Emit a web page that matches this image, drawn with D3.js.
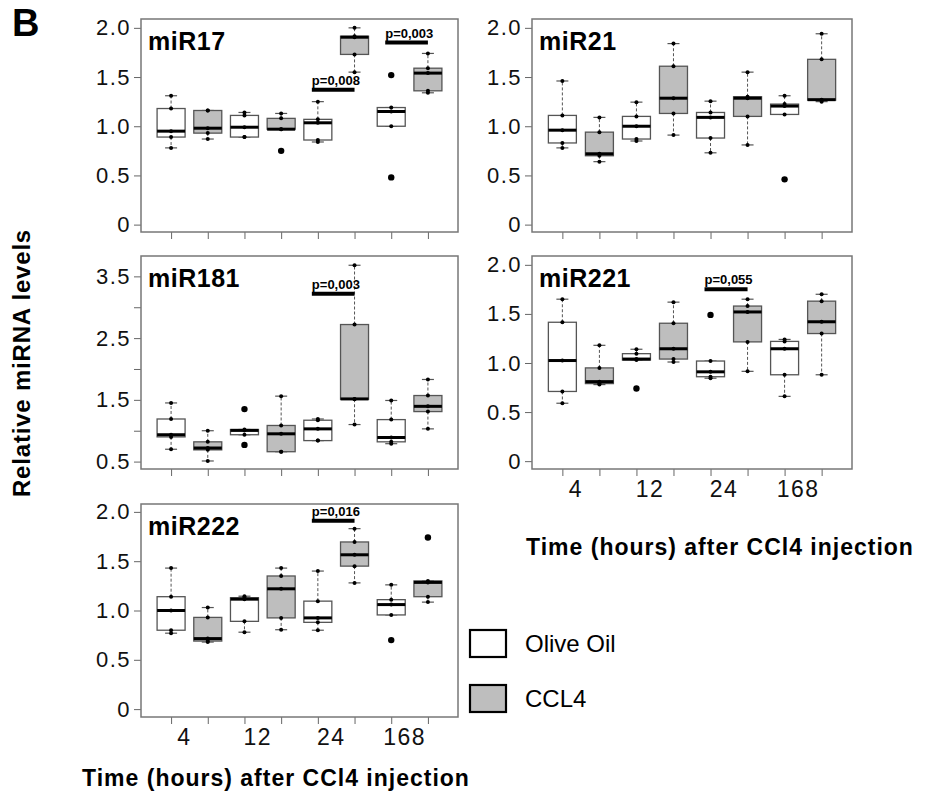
<!DOCTYPE html>
<html>
<head>
<meta charset="utf-8">
<script src="https://cdn.jsdelivr.net/npm/d3@7"></script>
<style>
  body { margin: 0; background: #fff; }
  text { font-family: Arial, "Liberation Sans", sans-serif; }
</style>
</head>
<body>
<div id="chart"></div>
<script>
// time points (hours) and the two treatment groups
const times = ["4", "12", "24", "168"];
const groups = ["Olive Oil", "CCL4"];

// 5 animals per box, box order: oil 4h, ccl4 4h, oil 12h, ccl4 12h, oil 24h, ...
const mir17 = [
    [1.31, 1.18, 0.95, 0.89, 0.78],
    [1.16, 1.16, 0.98, 0.93, 0.87],
    [1.14, 1.11, 0.99, 0.89, 0.89],
    [1.13, 1.08, 0.97, 0.97, 0.75],
    [1.25, 1.07, 1.035, 0.86, 0.84],
    [2.0, 1.915, 1.905, 1.73, 1.55],
    [1.52, 1.19, 1.15, 1.0, 0.48],
    [1.74, 1.59, 1.54, 1.36, 1.34]
];
const mir21 = [
    [1.46, 1.11, 0.96, 0.83, 0.78],
    [1.09, 0.94, 0.72, 0.70, 0.64],
    [1.245, 1.10, 1.0, 0.87, 0.85],
    [1.84, 1.61, 1.285, 1.13, 0.91],
    [1.255, 1.14, 1.09, 0.88, 0.73],
    [1.55, 1.30, 1.285, 1.10, 0.81],
    [1.31, 1.225, 1.205, 1.12, 0.46],
    [1.94, 1.68, 1.27, 1.265, 1.25]
];
const mir181 = [
    [1.45, 1.19, 0.935, 0.90, 0.70],
    [1.0, 0.82, 0.72, 0.69, 0.51],
    [1.35, 1.02, 1.005, 0.935, 0.77],
    [1.56, 1.085, 0.95, 0.66, 0.66],
    [1.19, 1.17, 1.03, 0.84, 0.84],
    [3.68, 2.72, 1.515, 1.51, 1.10],
    [1.49, 1.18, 0.89, 0.82, 0.79],
    [1.83, 1.57, 1.395, 1.31, 1.03]
];
const mir221 = [
    [1.65, 1.415, 1.025, 0.71, 0.59],
    [1.18, 0.95, 0.81, 0.79, 0.78],
    [1.14, 1.095, 1.04, 1.03, 0.74],
    [1.62, 1.405, 1.145, 1.04, 1.01],
    [1.49, 1.02, 0.91, 0.86, 0.845],
    [1.65, 1.58, 1.52, 1.215, 0.915],
    [1.24, 1.22, 1.145, 0.88, 0.66],
    [1.70, 1.63, 1.42, 1.30, 0.88]
];
const mir222 = [
    [1.43, 1.14, 1.0, 0.80, 0.77],
    [1.03, 0.93, 0.715, 0.69, 0.68],
    [1.145, 1.13, 1.115, 0.89, 0.78],
    [1.43, 1.35, 1.22, 0.925, 0.805],
    [1.40, 1.095, 0.925, 0.88, 0.80],
    [1.83, 1.695, 1.565, 1.45, 1.28],
    [1.26, 1.11, 1.06, 0.955, 0.70],
    [1.74, 1.30, 1.285, 1.14, 1.085]
];

// y ticks
const ticksStd = [0, 0.5, 1, 1.5, 2];
const ticks181 = [0.5, 1, 1.5, 2, 2.5, 3, 3.5];
const labels181 = [0.5, 1.5, 2.5, 3.5];

// significance bars: [first box, second box, label, level of the bar]
const pvals17 = [[4, 5, "p=0,008", 1.37], [6, 7, "p=0,003", 1.85]];
const pvals181 = [[4, 5, "p=0,003", 3.22]];
const pvals221 = [[4, 5, "p=0,055", 1.75]];
const pvals222 = [[4, 5, "p=0,016", 1.91]];

const cfg = {
    width: 930,
    height: 795,
    panelW: [317, 320],
    panelH: 213,
    colX: [141, 532],
    rowY: [19, 256, 504],
    boxW: 28,
    capW: 12,
    fill: ["#ffffff", "#bebebe"]
};

const panels = [
    { name: "miR17", values: mir17, col: 0, row: 0, domain: [-0.075, 2.09], ticks: ticksStd, labels: ticksStd, pvals: pvals17, xLabels: false },
    { name: "miR21", values: mir21, col: 1, row: 0, domain: [-0.075, 2.09], ticks: ticksStd, labels: ticksStd, pvals: [], xLabels: false },
    { name: "miR181", values: mir181, col: 0, row: 1, domain: [0.38, 3.83], ticks: ticks181, labels: labels181, pvals: pvals181, xLabels: false },
    { name: "miR221", values: mir221, col: 1, row: 1, domain: [-0.08, 2.09], ticks: ticksStd, labels: ticksStd, pvals: pvals221, xLabels: true },
    { name: "miR222", values: mir222, col: 0, row: 2, domain: [-0.08, 2.08], ticks: ticksStd, labels: ticksStd, pvals: pvals222, xLabels: true }
];

const svg = d3.select("#chart")
    .append("svg")
    .attr("width", cfg.width)
    .attr("height", cfg.height);

// tukey style box stats (same as R boxplot for n = 5)
const boxStats = (vals) => {
    const s = vals.slice().sort(d3.ascending);
    const q1 = d3.quantile(s, 0.25), med = d3.quantile(s, 0.5), q3 = d3.quantile(s, 0.75);
    const iqr = q3 - q1;
    const inside = s.filter((v) => v >= q1 - 1.5 * iqr && v <= q3 + 1.5 * iqr);
    return {
        q1: q1, med: med, q3: q3,
        lo: d3.min(inside), hi: d3.max(inside),
        inside: inside,
        out: s.filter((v) => v < q1 - 1.5 * iqr || v > q3 + 1.5 * iqr)
    };
};

const fmt = (d) => d === 0 ? "0" : d3.format(".1f")(d);

const drawPanel = (p) => {
    const w = cfg.panelW[p.col], h = cfg.panelH;
    const g = svg.append("g")
        .attr("transform", "translate(" + cfg.colX[p.col] + "," + cfg.rowY[p.row] + ")");

    const x = d3.scalePoint()
        .domain(d3.range(p.values.length))
        .range([0, w])
        .padding(0.82);

    const y = d3.scaleLinear()
        .domain(p.domain)
        .range([h, 0]);

    // left axis, labels only on some ticks
    const yAxis = g.append("g")
        .call(d3.axisLeft(y).tickValues(p.ticks).tickSize(7).tickPadding(3)
            .tickFormat((d) => p.labels.indexOf(d) >= 0 ? fmt(d) : ""));
    yAxis.select(".domain").remove();
    yAxis.selectAll("line").attr("stroke", "#666");
    yAxis.selectAll("text")
        .attr("font-size", 22)
        .attr("letter-spacing", 1.5)
        .attr("fill", "#111");

    // bottom axis, one tick per box
    const xAxis = g.append("g")
        .attr("transform", "translate(0," + h + ")")
        .call(d3.axisBottom(x).tickSize(7).tickFormat(""));
    xAxis.select(".domain").remove();
    xAxis.selectAll("line").attr("stroke", "#666");

    if (p.xLabels) {
        g.selectAll(".tlab")
            .data(times)
            .enter()
            .append("text")
            .attr("class", "tlab")
            .attr("x", (d, i) => (x(2 * i) + x(2 * i + 1)) / 2 - 5)
            .attr("y", h + 28)
            .attr("text-anchor", "middle")
            .attr("font-size", 23)
            .attr("letter-spacing", 1.5)
            .attr("fill", "#111")
            .text((d) => d);
    }

    const stats = p.values.map(boxStats);

    const box = g.selectAll(".box")
        .data(stats)
        .enter()
        .append("g")
        .attr("class", "box")
        .attr("transform", (d, i) => "translate(" + x(i) + ",0)");

    // whiskers
    box.append("line")
        .attr("y1", (d) => y(d.q3)).attr("y2", (d) => y(d.hi))
        .attr("stroke", "#555").attr("stroke-dasharray", "3,2");
    box.append("line")
        .attr("y1", (d) => y(d.q1)).attr("y2", (d) => y(d.lo))
        .attr("stroke", "#555").attr("stroke-dasharray", "3,2");
    box.append("line")
        .attr("x1", -cfg.capW / 2).attr("x2", cfg.capW / 2)
        .attr("y1", (d) => y(d.hi)).attr("y2", (d) => y(d.hi))
        .attr("stroke", "#555").attr("stroke-width", 1.2);
    box.append("line")
        .attr("x1", -cfg.capW / 2).attr("x2", cfg.capW / 2)
        .attr("y1", (d) => y(d.lo)).attr("y2", (d) => y(d.lo))
        .attr("stroke", "#555").attr("stroke-width", 1.2);

    box.append("rect")
        .attr("x", -cfg.boxW / 2)
        .attr("width", cfg.boxW)
        .attr("y", (d) => y(d.q3))
        .attr("height", (d) => Math.max(1, y(d.q1) - y(d.q3)))
        .attr("fill", (d, i) => cfg.fill[i % 2])
        .attr("stroke", "#555")
        .attr("stroke-width", 1.3);

    box.append("line")
        .attr("x1", -cfg.boxW / 2).attr("x2", cfg.boxW / 2)
        .attr("y1", (d) => y(d.med)).attr("y2", (d) => y(d.med))
        .attr("stroke", "#000").attr("stroke-width", 3);

    // individual animals
    box.selectAll(".pt")
        .data((d) => d.inside)
        .enter()
        .append("circle")
        .attr("class", "pt")
        .attr("cy", (v) => y(v))
        .attr("r", 2)
        .attr("fill", "#000");

    box.selectAll(".out")
        .data((d) => d.out)
        .enter()
        .append("circle")
        .attr("class", "out")
        .attr("cy", (v) => y(v))
        .attr("r", 3.2)
        .attr("fill", "#000");

    // frame
    g.append("rect")
        .attr("width", w)
        .attr("height", h)
        .attr("fill", "none")
        .attr("stroke", "#777")
        .attr("stroke-width", 1.5);

    g.append("text")
        .attr("x", 7)
        .attr("y", 31)
        .attr("font-size", 25)
        .attr("font-weight", "bold")
        .attr("letter-spacing", 0.5)
        .text(p.name);

    // p-value bars
    p.pvals.forEach((pv) => {
        const x0 = x(pv[0]) - 6, x1 = x(pv[1]);
        g.append("line")
            .attr("x1", x0).attr("x2", x1)
            .attr("y1", y(pv[3])).attr("y2", y(pv[3]))
            .attr("stroke", "#000")
            .attr("stroke-width", 4);
        g.append("text")
            .attr("x", x0)
            .attr("y", y(pv[3]) - 5)
            .attr("font-size", 13)
            .attr("font-weight", "bold")
            .text(pv[2]);
    });
};

panels.forEach(drawPanel);

// shared labels
svg.append("text")
    .attr("x", 12).attr("y", 36)
    .attr("font-size", 38)
    .attr("font-weight", "bold")
    .text("B");

svg.append("text")
    .attr("transform", "translate(30,363) rotate(-90)")
    .attr("text-anchor", "middle")
    .attr("font-size", 24)
    .attr("font-weight", "bold")
    .attr("letter-spacing", 0.8)
    .text("Relative miRNA levels");

svg.append("text")
    .attr("x", 720).attr("y", 555)
    .attr("text-anchor", "middle")
    .attr("font-size", 23)
    .attr("font-weight", "bold")
    .attr("letter-spacing", 1)
    .text("Time (hours) after CCl4 injection");

svg.append("text")
    .attr("x", 276).attr("y", 786)
    .attr("text-anchor", "middle")
    .attr("font-size", 23)
    .attr("font-weight", "bold")
    .attr("letter-spacing", 1)
    .text("Time (hours) after CCl4 injection");

// legend
const legend = svg.append("g")
    .attr("transform", "translate(470,630)");

const item = legend.selectAll(".item")
    .data(groups)
    .enter()
    .append("g")
    .attr("class", "item")
    .attr("transform", (d, i) => "translate(0," + i * 55 + ")");

item.append("rect")
    .attr("width", 36)
    .attr("height", 27)
    .attr("fill", (d, i) => cfg.fill[i])
    .attr("stroke", "#000")
    .attr("stroke-width", 2.2);

item.append("text")
    .attr("x", 55)
    .attr("y", 14)
    .attr("dy", "0.35em")
    .attr("font-size", 24)
    .text((d) => d);
</script>
</body>
</html>
